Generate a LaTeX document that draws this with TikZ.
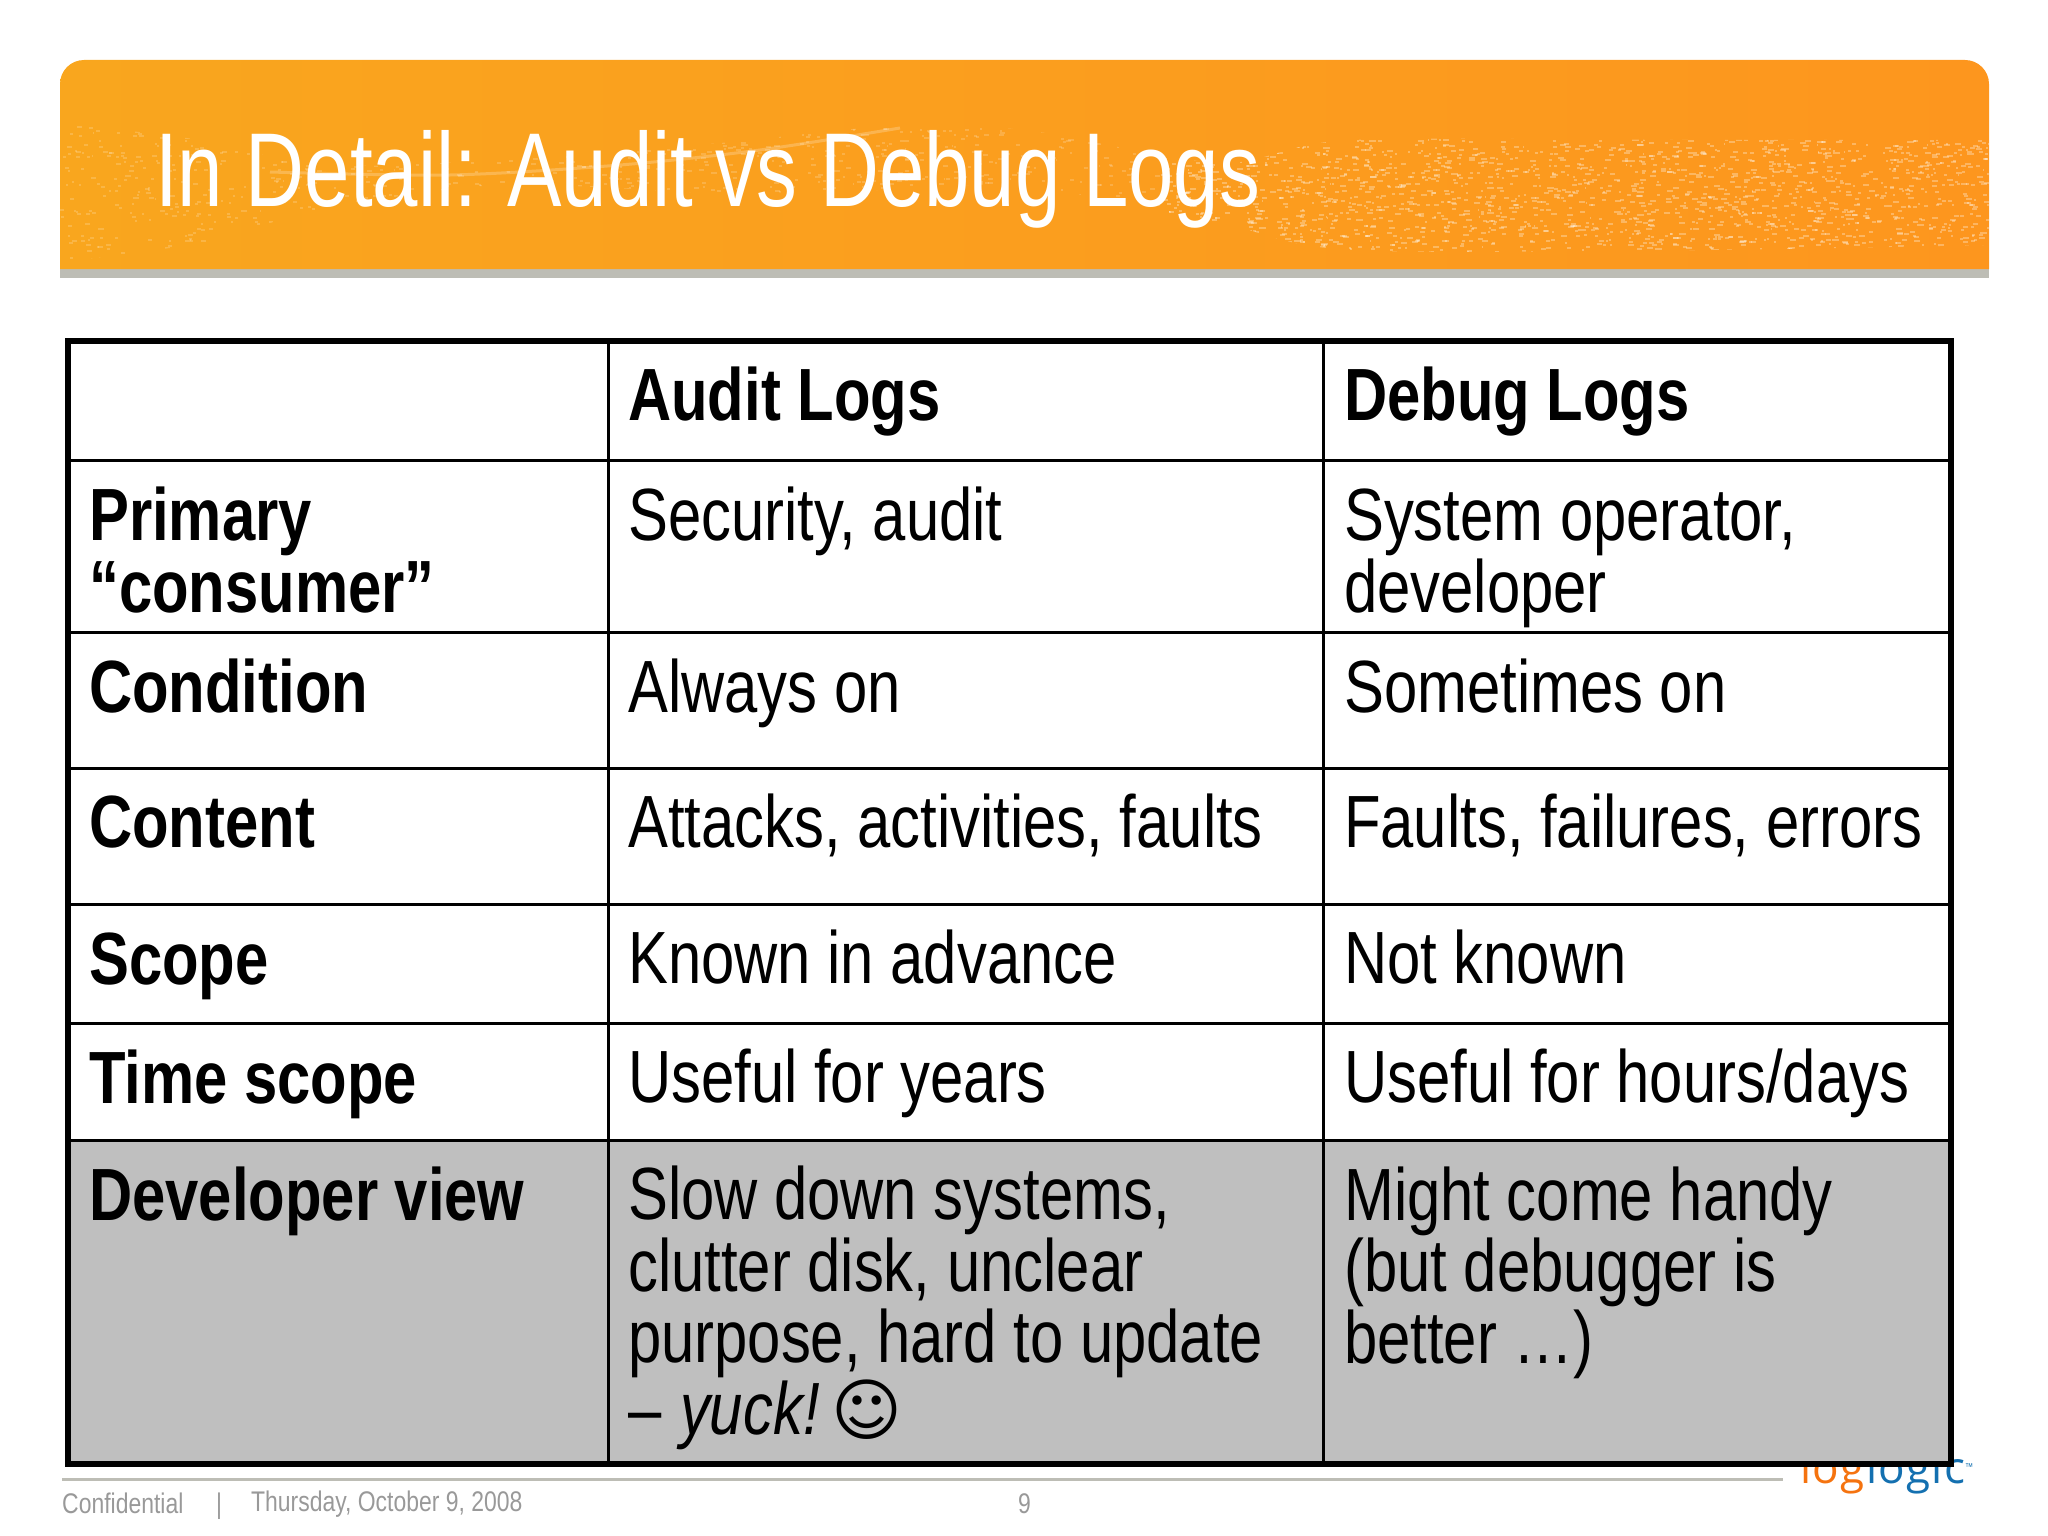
\documentclass[tikz,border=0pt]{standalone}
\usepackage{fontspec}
\setmainfont[FakeStretch=0.808]{Liberation Sans}
\newfontfamily\titlefont[FakeStretch=0.777]{Liberation Sans}
\newfontfamily\logofont[LetterSpace=3]{Open Sans}
\newfontfamily\smileyfont{DejaVu Sans}
\definecolor{bannerl}{HTML}{F9A61E}
\definecolor{bannerr}{HTML}{FD961E}
\definecolor{strip}{HTML}{BDBDB5}
\definecolor{rowgray}{HTML}{BFBFBF}
\definecolor{footgray}{HTML}{999999}
\definecolor{logoor}{HTML}{F5730F}
\definecolor{logobl}{HTML}{1470B0}
\tikzset{
    cellb/.style = {anchor=base west, inner sep=0pt, align=left, text=black, font=\fontsize{74}{71.5}\selectfont\bfseries},
    celln/.style = {anchor=base west, inner sep=0pt, align=left, text=black, font=\fontsize{74}{71.5}\selectfont},
    foot/.style = {anchor=base west, inner sep=0pt, text=footgray, font=\fontsize{28.4}{30}\selectfont},
    logotxt/.style = {anchor=base west, inner sep=0pt, font=\fontsize{44}{44}\logofont\selectfont},
    rule/.style = {black, line width=3pt},
    speck/.style = {white, opacity=0.3},
    speckl/.style = {white, opacity=0.18}
}
\begin{document}
\begin{tikzpicture}[x=1pt,y=-1pt]
\useasboundingbox (0,0) rectangle (2048,1536);
% banner
\fill[strip] (60,260) rectangle (1989,278);
\shade[left color=bannerl, right color=bannerr] (60,269) [rounded corners=24] -- (60,60) -- (1989,60) [sharp corners] -- (1989,269) -- cycle;
\begin{scope}
\clip plot[smooth] coordinates {(60,123) (200,140) (320,165) (500,160) (720,143) (882,127) (1024,130) (1220,163) (1350,140) (1700,140) (1989,140)}
  -- plot[smooth] coordinates {(1989,245) (1700,250) (1350,250) (1220,223) (1024,186) (882,190) (720,193) (500,185) (320,210) (200,243) (60,262)} -- cycle;
\pgfmathsetseed{9}
\foreach \i in {1,...,1500} {
  \pgfmathsetmacro\dotx{60+rnd*1100}
  \pgfmathsetmacro\doty{120+rnd*145}
  \pgfmathsetmacro\dotw{1.5+rnd*4}
  \fill[speckl] (\dotx,\doty) rectangle (\dotx+\dotw,\doty+2);
}
\foreach \i in {1,...,1900} {
  \pgfmathsetmacro\dotx{1160+rnd*830}
  \pgfmathsetmacro\doty{135+rnd*120}
  \pgfmathsetmacro\dotw{1.5+rnd*5}
  \fill[speck] (\dotx,\doty) rectangle (\dotx+\dotw,\doty+2);
}
\end{scope}
\draw[white, opacity=0.22, line width=3pt] plot[smooth] coordinates {(270,172) (450,175) (620,165) (760,150) (900,128)};
\node[anchor=base west, inner sep=0pt, text=white, font=\fontsize{105}{110}\titlefont\selectfont] at (155,206) (title) {In Detail: Audit vs Debug Logs};
% footer
\draw[strip, line width=3pt] (62,1479) -- (1783,1479);
\node[foot] at (62,1513) (conf) {Confidential};
\node[foot] at (216,1513) (sep) {|};
\node[foot] at (251,1511) (date) {Thursday, October 9, 2008};
\node[foot] at (1018,1513) (pageno) {9};
% logo
\node[logotxt, text=logoor] at (1800,1483) (logoa) {log};
\node[logotxt, text=logobl] at (1866,1483) (logob) {logic};
\node[anchor=base west, inner sep=0pt, text=logobl, font=\fontsize{10}{10}\selectfont] at (1965,1470) (logotm) {™};
% table
\fill[white] (68,341) rectangle (1951,1140);
\fill[rowgray] (68,1140) rectangle (1951,1464);
\foreach \y in {460,632,768,904,1023,1140} {
  \draw[rule] (68,\y) -- (1951,\y);
}
\foreach \x in {608,1323} {
  \draw[rule] (\x,341) -- (\x,1464);
}
\draw[black, line width=6pt] (68,341) rectangle (1951,1464);
%
\node[cellb] at (628,420) (audit) {Audit Logs};
\node[cellb] at (1344,420) (debug) {Debug Logs};
\node[cellb] at (89,612) (consumer) {Primary\\``consumer''};
\node[celln] at (628,540) (secaudit) {Security, audit};
\node[celln] at (1344,612) (sysop) {System operator,\\developer};
\node[cellb] at (89,712) (cond) {Condition};
\node[celln] at (628,712) (alwayson) {Always on};
\node[celln] at (1344,712) (sometimes) {Sometimes on};
\node[cellb] at (89,847) (content) {Content};
\node[celln] at (628,847) (attacks) {Attacks, activities, faults};
\node[celln] at (1344,847) (faults) {Faults, failures, errors};
\node[cellb] at (89,984) (scope) {Scope};
\node[celln] at (628,983) (known) {Known in advance};
\node[celln] at (1344,983) (notknown) {Not known};
\node[cellb] at (89,1103) (timescope) {Time scope};
\node[celln] at (628,1102) (years) {Useful for years};
\node[celln] at (1344,1102) (hours) {Useful for hours/days};
\node[cellb] at (89,1220) (devview) {Developer view};
\node[celln] at (628,1434) (slow) {Slow down systems,\\clutter disk, unclear\\purpose, hard to update\\-- \kern2pt\textit{yuck!} \kern-10pt{\smileyfont\fontsize{68}{71.5}\selectfont ☺}};
\node[celln] at (1344,1363) (handy) {Might come handy\\(but debugger is\\better \ldots)};
\end{tikzpicture}
\end{document}
